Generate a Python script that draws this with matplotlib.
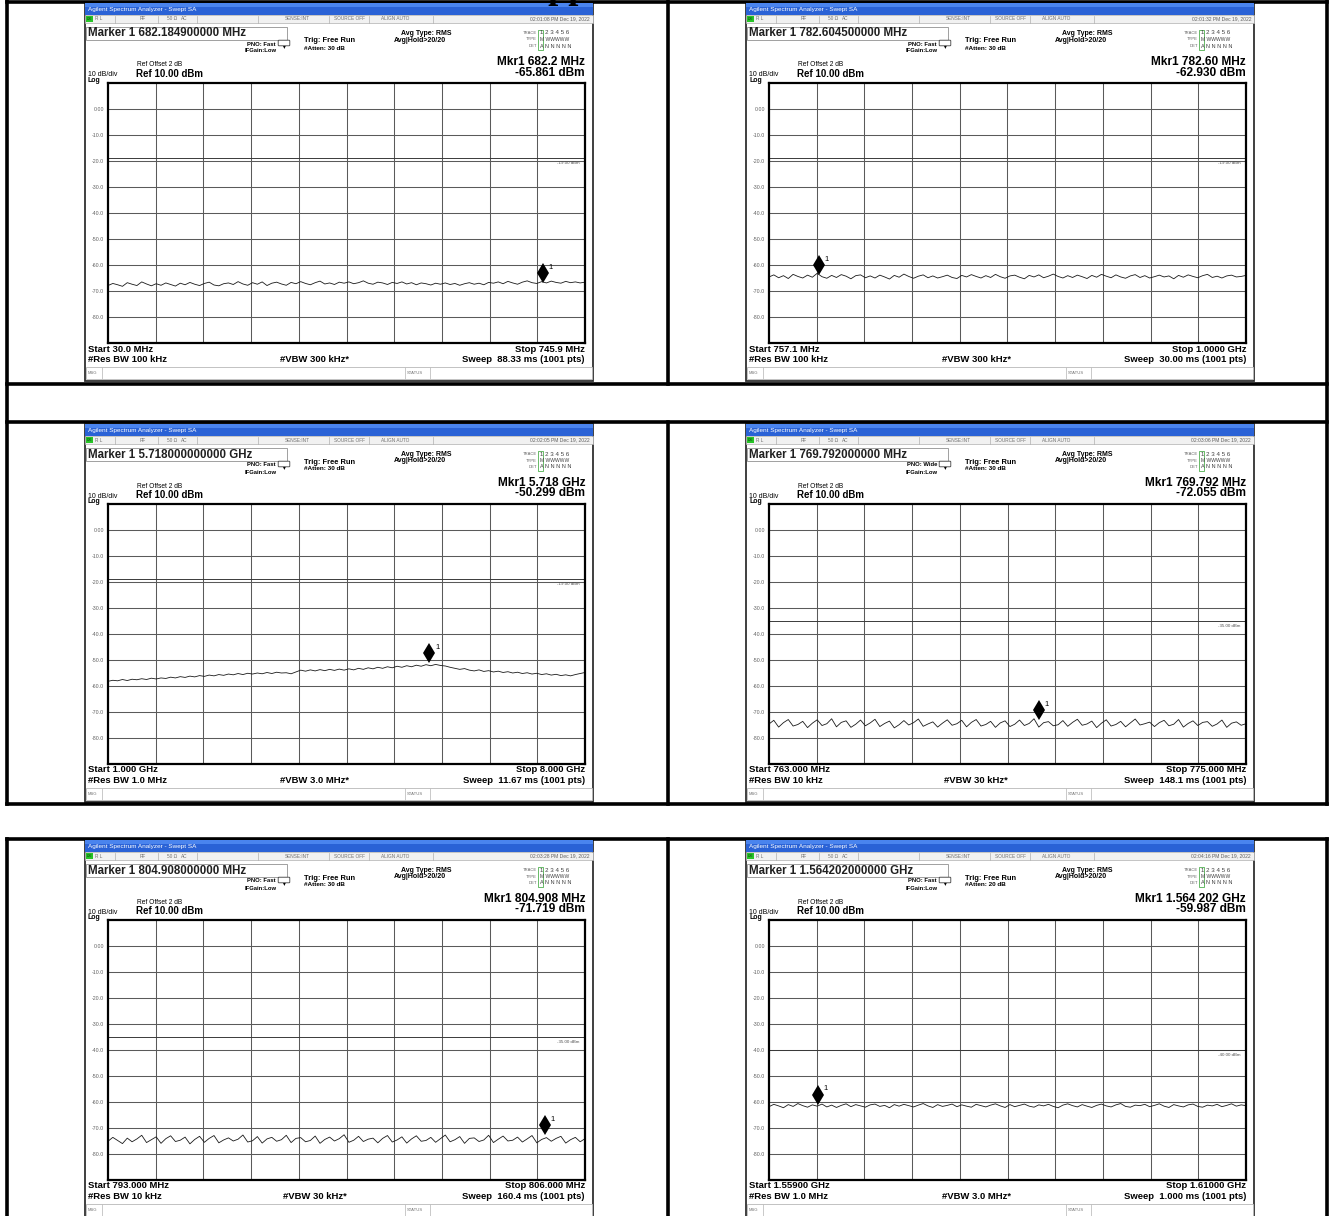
import numpy as np
import matplotlib
matplotlib.use("Agg")
import matplotlib.pyplot as plt
from matplotlib.patches import Rectangle, FancyBboxPatch

plt.rcParams['font.family'] = ['Liberation Sans', 'DejaVu Sans']

# values (frequencies in MHz, levels in dBm)
marker_text = ["Marker 1 682.184900000 MHz", "Marker 1 782.604500000 MHz",
               "Marker 1 5.718000000000 GHz", "Marker 1 769.792000000 MHz",
               "Marker 1 804.908000000 MHz", "Marker 1 1.564202000000 GHz"]
time_stamps = ["02:01:08 PM Dec 19, 2022", "02:01:32 PM Dec 19, 2022",
               "02:02:05 PM Dec 19, 2022", "02:03:06 PM Dec 19, 2022",
               "02:03:28 PM Dec 19, 2022", "02:04:16 PM Dec 19, 2022"]
pno_mode = ["Fast", "Fast", "Fast", "Wide", "Fast", "Fast"]
atten_db = [30, 30, 30, 30, 30, 20]
mkr_freq_label = ["682.2 MHz", "782.60 MHz", "5.718 GHz", "769.792 MHz",
                  "804.908 MHz", "1.564 202 GHz"]
mkr_freq = [682.1849, 782.6045, 5718.0, 769.792, 804.908, 1564.202]
mkr_level = [-65.861, -62.930, -50.299, -72.055, -71.719, -59.987]
display_line = [-19.0, -19.0, -19.0, -35.0, -35.0, -40.0]
start_freq = [30.0, 757.1, 1000.0, 763.0, 793.0, 1559.0]
stop_freq = [745.9, 1000.0, 8000.0, 775.0, 806.0, 1610.0]
start_label = ["30.0 MHz", "757.1 MHz", "1.000 GHz", "763.000 MHz", "793.000 MHz", "1.55900 GHz"]
stop_label = ["745.9 MHz", "1.0000 GHz", "8.000 GHz", "775.000 MHz", "806.000 MHz", "1.61000 GHz"]
rbw_label = ["100 kHz", "100 kHz", "1.0 MHz", "10 kHz", "10 kHz", "1.0 MHz"]
vbw_label = ["300 kHz*", "300 kHz*", "3.0 MHz*", "30 kHz*", "30 kHz*", "3.0 MHz*"]
sweep_label = ["88.33 ms (1001 pts)", "30.00 ms (1001 pts)", "11.67 ms (1001 pts)",
               "148.1 ms (1001 pts)", "160.4 ms (1001 pts)", "1.000 ms (1001 pts)"]

trace_1 = [-67.9, -67.1, -67.6, -68.2, -66.8, -67.4, -67.9, -66.5, -67.3, -68.0,
           -67.2, -67.8, -66.9, -67.5, -68.1, -67.0, -67.6, -66.7, -67.4, -67.9,
           -67.1, -66.6, -67.7, -68.0, -67.2, -66.9, -67.5, -66.4, -67.3, -67.8,
           -66.8, -67.4, -66.5, -67.9, -67.0, -66.6, -67.3, -67.8, -66.7, -67.2,
           -66.4, -67.1, -67.6, -66.8, -66.2, -67.3, -66.9, -67.5, -66.6, -67.0,
           -66.5, -67.2, -66.8, -66.1, -67.0, -67.4, -66.6, -66.9, -67.5, -66.7,
           -67.1, -66.5, -67.3, -66.8, -67.6, -66.9, -67.2, -67.7, -67.0, -67.4,
           -66.9, -67.5, -67.1, -67.8, -67.2, -66.8, -67.4, -67.0, -67.6, -66.7,
           -67.0, -66.5, -67.2, -66.3, -66.9, -67.4, -66.6, -66.1, -66.8, -67.1,
           -66.4, -66.9, -66.2, -66.7, -67.0, -66.3, -66.8, -66.5, -66.9, -66.6]
trace_2 = [-64.6, -63.8, -64.9, -64.1, -65.2, -63.6, -64.4, -65.0, -63.9, -64.7,
           -63.2, -64.5, -65.1, -64.0, -64.8, -63.7, -64.3, -65.3, -64.1, -63.8,
           -64.9, -64.2, -65.0, -63.9, -64.6, -65.4, -64.0, -64.7, -63.5, -64.4,
           -65.1, -64.3, -63.8, -64.9, -64.2, -65.0, -64.5, -63.9, -64.8, -65.2,
           -64.0, -64.6, -63.7, -64.4, -65.0, -64.1, -64.8, -63.6, -64.5, -65.1,
           -64.2, -63.9, -64.7, -65.3, -64.0, -64.6, -63.8, -64.9, -64.3, -63.5,
           -64.4, -65.0, -64.1, -64.8, -63.9, -64.5, -65.2, -64.0, -64.7, -63.6,
           -64.3, -64.9, -63.8, -64.6, -65.1, -64.2, -63.7, -64.8, -64.1, -65.0,
           -64.5, -63.9, -64.6, -64.2, -65.3, -64.0, -64.7, -63.8, -64.4, -64.9,
           -64.1, -63.6, -64.8, -64.3, -65.0, -64.2, -63.9, -64.6, -64.4, -64.0]
trace_3 = [-58.2, -57.8, -58.0, -57.5, -57.9, -57.4, -57.6, -57.2, -57.5, -57.0,
           -57.3, -56.9, -57.1, -56.6, -56.9, -56.4, -56.7, -56.2, -56.5, -56.0,
           -56.3, -55.8, -56.1, -55.6, -55.9, -55.4, -55.7, -55.2, -55.6, -55.1,
           -55.4, -55.0, -55.3, -54.8, -55.2, -54.7, -55.0, -54.9, -55.3, -54.6,
           -53.9, -54.3, -53.8, -54.2, -53.7, -54.1, -53.6, -54.0, -53.5, -53.9,
           -53.4, -53.8, -53.2, -53.6, -53.0, -53.4, -52.8, -53.2, -52.6, -53.0,
           -52.4, -52.8, -52.2, -52.6, -52.0, -52.4, -51.8, -52.2, -51.7, -52.1,
           -52.3, -52.8, -53.2, -53.6, -53.3, -53.9, -54.2, -53.8, -54.4, -54.1,
           -54.6, -54.3, -54.8, -54.5, -55.0, -54.7, -55.2, -54.9, -55.4, -55.1,
           -55.6, -55.3, -55.8, -55.5, -56.0, -55.7, -56.1, -55.6, -55.2, -54.8]
trace_4 = [-74.6, -73.2, -75.8, -74.1, -72.9, -75.4, -74.8, -73.6, -76.0, -74.3,
           -73.0, -75.2, -74.5, -72.6, -75.7, -74.0, -73.4, -75.9, -74.7, -73.1,
           -75.3, -74.2, -72.8, -75.6, -74.4, -73.5, -76.1, -74.9, -73.3, -75.0,
           -74.1, -72.7, -75.5, -74.6, -73.8, -75.8, -74.3, -73.0, -75.1, -74.5,
           -73.2, -75.7, -74.0, -72.9, -75.4, -74.8, -73.6, -75.9, -74.2, -73.4,
           -75.6, -74.7, -73.1, -75.2, -74.4, -72.6, -75.8, -74.1, -73.7, -75.3,
           -74.9, -73.3, -75.5, -74.0, -72.8, -75.1, -74.6, -73.5, -76.0, -74.3,
           -73.0, -75.4, -74.8, -73.6, -75.7, -74.2, -72.7, -75.0, -74.5, -73.9,
           -75.6, -74.1, -73.2, -75.3, -74.7, -72.9, -75.8, -74.4, -73.4, -75.2,
           -74.0, -73.7, -75.5, -74.6, -73.1, -75.9, -74.3, -73.8, -75.1, -74.5]
trace_5 = [-75.1, -73.6, -74.8, -76.0, -73.9, -75.3, -74.2, -72.8, -75.6, -74.5,
           -73.4, -75.9, -74.1, -73.0, -75.2, -74.7, -73.5, -76.1, -74.4, -73.2,
           -75.5, -74.0, -72.9, -75.7, -74.6, -73.8, -75.0, -74.3, -72.7, -75.4,
           -74.9, -73.3, -75.8, -74.2, -73.6, -75.1, -74.5, -72.8, -75.6, -74.0,
           -73.7, -75.3, -74.8, -73.1, -75.9, -74.4, -73.5, -75.0, -74.1, -72.6,
           -75.5, -74.7, -73.2, -75.2, -74.3, -73.9, -75.7, -74.0, -72.9, -75.4,
           -74.6, -73.4, -75.8, -74.2, -73.0, -75.1, -74.8, -73.6, -75.5, -74.1,
           -72.7, -75.3, -74.5, -73.3, -75.9, -74.0, -73.8, -75.2, -74.6, -72.8,
           -75.6, -74.3, -73.1, -75.0, -74.7, -73.5, -75.4, -74.2, -72.9, -75.7,
           -74.4, -73.7, -75.1, -74.0, -73.2, -75.8, -74.5, -73.6, -75.3, -74.1]
trace_6 = [-61.8, -60.9, -61.5, -62.2, -61.0, -61.7, -60.6, -61.4, -62.0, -61.1,
           -61.6, -60.8, -61.9, -61.2, -62.1, -61.3, -60.7, -61.8, -61.0, -61.5,
           -62.0, -61.1, -60.8, -61.7, -61.3, -62.2, -61.0, -61.6, -60.9, -61.4,
           -61.9, -61.2, -60.6, -61.5, -62.1, -61.0, -61.7, -61.3, -60.8, -61.8,
           -61.1, -61.6, -62.0, -60.9, -61.4, -61.9, -61.2, -60.7, -61.5, -62.1,
           -61.0, -61.8, -61.3, -60.8, -61.6, -62.0, -61.1, -61.5, -60.9, -61.7,
           -62.2, -61.2, -60.7, -61.4, -61.9, -61.0, -61.6, -62.1, -61.3, -60.8,
           -61.5, -61.9, -61.1, -60.6, -61.7, -62.0, -61.2, -61.4, -60.9, -61.8,
           -61.3, -60.7, -61.6, -62.1, -61.0, -61.5, -61.9, -61.1, -60.8, -61.7,
           -62.0, -61.2, -61.5, -60.9, -61.8, -61.3, -60.7, -61.6, -61.1, -61.4]
traces = [trace_1, trace_2, trace_3, trace_4, trace_5, trace_6]

FIG_W, FIG_H = 1330, 1216
SW, SH = 508, 378          # one screenshot, pixels
col_x = [85, 746]
row_y = [3, 424, 840]

fig = plt.figure(figsize=(FIG_W / 100, FIG_H / 100), dpi=100)
bg = fig.add_axes([0, 0, 1, 1])
bg.set_xlim(0, FIG_W)
bg.set_ylim(FIG_H, 0)
bg.axis('off')

# table borders
lw_t = 2.6
for (xa, ya, xb, yb) in [(7, 1.5, 1327, 1.5), (7, 384, 1327, 384), (7, 422, 1327, 422),
                         (7, 804, 1327, 804), (7, 839, 1327, 839),
                         (7, 0, 7, 804), (1327, 0, 1327, 804), (668, 0, 668, 384), (668, 422, 668, 804),
                         (7, 839, 7, 1216), (1327, 839, 1327, 1216), (668, 839, 668, 1216)]:
    bg.plot([xa, xb], [ya, yb], color='black', lw=lw_t, solid_capstyle='projecting')

# page heading above the table: cut by the top edge, only the descenders show
bg.text(598, -2.5, "Appendix", fontsize=26, family='Liberation Serif', fontweight='bold',
        ha='center', va='baseline')


def t(x, y, s, **kw):
    kw.setdefault('va', 'center')
    bg.text(x, y, s, **kw)


def draw_screen(i, x0, y0):
    bg.add_patch(Rectangle((x0, y0), SW, SH, facecolor='white', edgecolor='#303030', lw=1.3, zorder=1))
    # title bar
    bg.add_patch(Rectangle((x0, y0), SW, 12, facecolor='#2a62d6', edgecolor='none', zorder=2))
    bg.add_patch(Rectangle((x0, y0), SW, 4, facecolor='#4a84ee', edgecolor='none', zorder=2))
    t(x0 + 3, y0 + 6.5, "Agilent Spectrum Analyzer - Swept SA", color='white', fontsize=4.6, zorder=3)
    # status row
    bg.add_patch(Rectangle((x0, y0 + 12), SW, 8, facecolor='#f1f1f1', edgecolor='#b0b0b0', lw=0.5, zorder=2))
    bg.add_patch(Rectangle((x0 + 1, y0 + 13), 7, 6, facecolor='#27c427', edgecolor='none', zorder=3))
    t(x0 + 4.5, y0 + 16, "LXI", fontsize=2.6, ha='center', color='#103010', zorder=4)
    for sx in [30, 73, 112, 173, 244, 284, 348]:
        bg.plot([x0 + sx, x0 + sx], [y0 + 12.5, y0 + 19.5], color='#b0b0b0', lw=0.5, zorder=3)
    for sx, s in [(10, "R L"), (55, "RF"), (82, "50 Ω"), (96, "AC"), (200, "SENSE:INT"),
                  (249, "SOURCE OFF"), (296, "ALIGN AUTO")]:
        t(x0 + sx, y0 + 16, s, fontsize=3.4, color='#707070', zorder=4)
    t(x0 + SW - 3, y0 + 16, time_stamps[i], fontsize=3.6, color='#606060', ha='right', zorder=4)
    # marker line and settings
    bg.add_patch(Rectangle((x0 + 1, y0 + 24), 201, 13, facecolor='white', edgecolor='#909090', lw=0.6, zorder=2))
    t(x0 + 3, y0 + 30.5, marker_text[i], fontsize=8.3, fontweight='bold', color='#202020', zorder=3)
    t(x0 + 176, y0 + 41, "PNO: " + pno_mode[i], fontsize=4.2, fontweight='bold', ha='center', zorder=3)
    t(x0 + 176, y0 + 48, "IFGain:Low", fontsize=4.2, fontweight='bold', ha='center', zorder=3)
    bg.add_patch(FancyBboxPatch((x0 + 194, y0 + 38), 10, 4, boxstyle="round,pad=0.8",
                                facecolor='white', edgecolor='#404040', lw=0.6, zorder=3))
    t(x0 + 199, y0 + 43.5, "▾", fontsize=4, ha='center', zorder=4)
    t(x0 + 219, y0 + 38, "Trig: Free Run", fontsize=5.4, fontweight='bold', zorder=3)
    t(x0 + 219, y0 + 45, "#Atten: %d dB" % atten_db[i], fontsize=4.6, fontweight='bold', zorder=3)
    t(x0 + 316, y0 + 30.5, "Avg Type: RMS", fontsize=5.0, fontweight='bold', zorder=3)
    t(x0 + 309, y0 + 37, "Avg|Hold>20/20", fontsize=5.0, fontweight='bold', zorder=3)
    t(x0 + 452, y0 + 30, "TRACE", fontsize=3.0, color='#606060', ha='right', zorder=3)
    t(x0 + 452, y0 + 36.5, "TYPE", fontsize=3.0, color='#606060', ha='right', zorder=3)
    t(x0 + 452, y0 + 43, "DET", fontsize=3.0, color='#606060', ha='right', zorder=3)
    bg.add_patch(Rectangle((x0 + 453, y0 + 26.5), 4.5, 20, facecolor='none', edgecolor='#2ca02c', lw=0.5, zorder=3))
    t(x0 + 455, y0 + 30, "1 2 3 4 5 6", fontsize=4.4, color='#404040', zorder=3)
    t(x0 + 455, y0 + 36.5, "M WWWWW", fontsize=3.6, color='#404040', zorder=3)
    t(x0 + 455, y0 + 43, "A N N N N N", fontsize=4.0, color='#404040', zorder=3)
    t(x0 + SW - 8, y0 + 59, "Mkr1 " + mkr_freq_label[i], fontsize=8.6, fontweight='bold', ha='right', zorder=3)
    t(x0 + SW - 8, y0 + 69.5, "%.3f dBm" % mkr_level[i], fontsize=8.6, fontweight='bold', ha='right', zorder=3)
    t(x0 + 52, y0 + 62, "Ref Offset 2 dB", fontsize=4.8, zorder=3)
    t(x0 + 51, y0 + 71, "Ref 10.00 dBm", fontsize=7.0, fontweight='bold', zorder=3)
    t(x0 + 3, y0 + 72, "10 dB/div", fontsize=5.0, zorder=3)
    t(x0 + 3, y0 + 77.5, "Log", fontsize=5.0, fontweight='bold', zorder=3)
    # bottom annotations
    t(x0 + 3, y0 + 346, "Start " + start_label[i], fontsize=6.8, fontweight='bold', zorder=3)
    t(x0 + 3, y0 + 356.5, "#Res BW " + rbw_label[i], fontsize=6.8, fontweight='bold', zorder=3)
    t(x0 + 230, y0 + 356.5, "#VBW " + vbw_label[i], fontsize=6.8, fontweight='bold', ha='center', zorder=3)
    t(x0 + SW - 8, y0 + 346, "Stop " + stop_label[i], fontsize=6.8, fontweight='bold', ha='right', zorder=3)
    t(x0 + SW - 8, y0 + 356.5, "Sweep  " + sweep_label[i], fontsize=6.8, fontweight='bold', ha='right', zorder=3)
    bg.add_patch(Rectangle((x0 + 1, y0 + 364), SW - 2, 12, facecolor='white', edgecolor='#b8b8b8', lw=0.6, zorder=2))
    for sx in [17, 320, 345]:
        bg.plot([x0 + sx, x0 + sx], [y0 + 364, y0 + 376], color='#c0c0c0', lw=0.6, zorder=3)
    t(x0 + 3, y0 + 370, "MSG", fontsize=3.0, color='#707070', zorder=4)
    t(x0 + 322, y0 + 370, "STATUS", fontsize=3.0, color='#707070', zorder=4)

    # the trace display itself
    gx, gy, gw, gh = x0 + 23, y0 + 80, SW - 31, 260
    ax = fig.add_axes([gx / FIG_W, 1 - (gy + gh) / FIG_H, gw / FIG_W, gh / FIG_H])
    f0, f1 = start_freq[i], stop_freq[i]
    span = f1 - f0
    ax.set_xlim(f0, f1)
    ax.set_ylim(-90, 10)
    ax.set_xticks(np.linspace(f0, f1, 11)[1:-1])
    ax.set_yticks(np.arange(-80, 10, 10))
    ax.set_yticklabels(["0.00" if v == 0 else "%.1f" % v for v in np.arange(-80, 10, 10)])
    ax.tick_params(axis='y', length=0, labelsize=3.8, labelcolor='#606060', pad=3)
    ax.tick_params(axis='x', length=0, labelbottom=False)
    ax.grid(True, color='#5a5a5a', lw=0.75)
    for sp in ax.spines.values():
        sp.set_linewidth(1.6)
    ax.axhline(display_line[i], color='#3a3a3a', lw=0.7)
    ax.text(f1 - 0.012 * span, display_line[i] - 1.8, "%.2f dBm" % display_line[i],
            fontsize=3.2, color='#505050', ha='right', va='center')
    freqs = np.linspace(f0, f1, len(traces[i]))
    ax.plot(freqs, traces[i], color='#1a1a1a', lw=0.6)
    ax.plot([mkr_freq[i]], [mkr_level[i] + 2.8], marker='d', ms=10, color='black', mew=0)
    ax.text(mkr_freq[i] + 0.012 * span, mkr_level[i] + 5.0, "1", fontsize=5.5, va='center')


k = 0
for r in row_y:
    for c in col_x:
        draw_screen(k, c, r)
        k += 1

fig.savefig("out.png", dpi=100, facecolor='white')
